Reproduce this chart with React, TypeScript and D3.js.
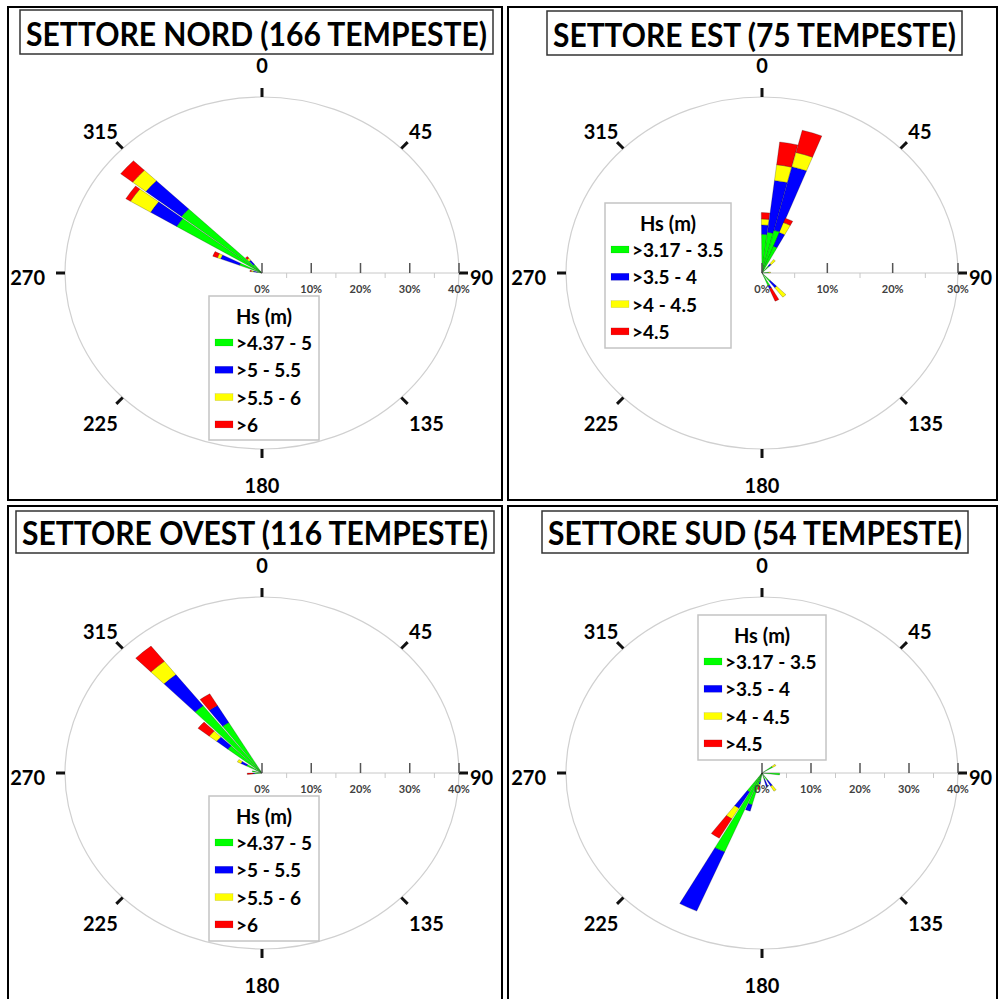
import React from "react";
import * as d3 from "d3";

// Direction of each petal (degrees clockwise from north) and frequency (%) per Hs class
const NORD_DIRS = [281.25, 294, 304.5, 311.25, 318.75];
const NORD_G = [1.0, 4.9, 20.3, 20.8, 2.5];
const NORD_B = [0.8, 4.1, 6.2, 9.2, 1.2];
const NORD_Y = [0.4, 0.7, 4.8, 3.4, 0.6];
const NORD_R = [0.3, 1.0, 1.1, 3.1, 0.5];

const EST_DIRS = [3, 10.5, 17.8, 24.5, 41.25, 86, 138.75, 153.75];
const EST_G = [6.6, 7.0, 7.5, 4.9, 1.5, 1.0, 1.8, 2.4];
const EST_B = [1.6, 8.9, 11.2, 2.5, 0.5, 0, 1.4, 0.5];
const EST_Y = [1.0, 2.7, 2.5, 1.8, 0.9, 0.3, 2.0, 0];
const EST_R = [1.1, 3.9, 3.9, 0.8, 0, 0, 0, 2.3];

const OVEST_DIRS = [266.25, 281.25, 300, 311.25, 318.75, 326.25];
const OVEST_G = [1.5, 2.0, 3.5, 8.8, 19.4, 13.3];
const OVEST_B = [0.3, 0, 1.3, 2.9, 9.0, 4.5];
const OVEST_Y = [0, 0, 0.8, 1.9, 3.8, 0];
const OVEST_R = [1.2, 0, 0, 2.9, 4.4, 3.1];

const SUD_DIRS = [56.25, 93.75, 146.25, 161.25, 191.25, 198.75, 206.25, 213.75];
const SUD_G = [2.5, 3.6, 2.0, 1.5, 2.0, 7.5, 19.5, 5.0];
const SUD_B = [0, 0, 1.5, 1.8, 0.6, 1.5, 14.6, 4.3];
const SUD_Y = [0.8, 0, 1.3, 0, 0.4, 0, 0, 2.8];
const SUD_R = [0, 0, 0, 0, 0.8, 0, 0, 5.1];

const LEGEND_HIGH = [">4.37 - 5", ">5 - 5.5", ">5.5 - 6", ">6"];
const LEGEND_LOW = [">3.17 - 3.5", ">3.5 - 4", ">4 - 4.5", ">4.5"];
const COMPASS = [0, 45, 90, 135, 180, 225, 270, 315];

const CLASS_COLORS = ["#00ff00", "#0000ff", "#ffff00", "#ff0000"];
const FONT = "Lato, 'Liberation Sans', sans-serif";

type Box = [number, number, number, number];

type PanelProps = {
  frame: Box;
  cx: number;
  cy: number;
  rx: number;
  ry: number;
  maxPct: number;
  petalWidth: number;
  title: string;
  titleBox: Box;
  dirs: number[];
  g: number[];
  b: number[];
  y: number[];
  r: number[];
  legend: string[];
  legendBox: Box;
};

const arcGen = d3.arc<{ innerRadius: number; outerRadius: number; startAngle: number; endAngle: number }>();

function Panel(p: PanelProps) {
  const radius = d3.scaleLinear().domain([0, p.maxPct]).range([0, p.rx]);
  const major = d3.range(0, p.maxPct + 0.001, 10);
  const minor = d3.range(5, p.maxPct, 10);
  const half = ((p.petalWidth / 2) * Math.PI) / 180;

  const petals: React.ReactNode[] = [];
  p.dirs.forEach((dir, i) => {
    const vals = [p.g[i], p.b[i], p.y[i], p.r[i]];
    const a = (dir * Math.PI) / 180;
    let acc = 0;
    vals.forEach((v, k) => {
      if (v <= 0) return;
      const d = arcGen({
        innerRadius: radius(acc),
        outerRadius: radius(acc + v),
        startAngle: a - half,
        endAngle: a + half,
      });
      petals.push(
        <path
          key={`${i}-${k}`}
          d={d || ""}
          fill={CLASS_COLORS[k]}
          stroke="rgba(0,0,0,0.45)"
          strokeWidth={0.5}
          vectorEffect="non-scaling-stroke"
        />
      );
      acc += v;
    });
  });

  const ell = (deg: number, dr: number, drY: number) => {
    const t = (deg * Math.PI) / 180;
    return [p.cx + Math.sin(t) * (p.rx + dr), p.cy - Math.cos(t) * (p.ry + drY)];
  };

  const [lx, ly, lw, lh] = p.legendBox;
  const [tx, ty, tw, th] = p.titleBox;
  const [fx, fy, fw, fh] = p.frame;

  return (
    <g>
      <rect x={fx} y={fy} width={fw} height={fh} fill="white" stroke="#000" strokeWidth={2} />
      <rect x={tx} y={ty} width={tw} height={th} fill="white" stroke="#333" strokeWidth={1.5} />
      <text
        x={tx + tw / 2}
        y={ty + th - 8}
        textAnchor="middle"
        textLength={tw - 12}
        lengthAdjust="spacingAndGlyphs"
        fontFamily={FONT}
        fontWeight={700}
        fontSize={32}
        fill="#000"
      >
        {p.title}
      </text>

      {/* outer ring */}
      <ellipse cx={p.cx} cy={p.cy} rx={p.rx} ry={p.ry} fill="none" stroke="#d0d0d0" strokeWidth={1.2} />

      {/* compass ticks and labels */}
      {COMPASS.map((deg) => {
        const [x1, y1] = ell(deg, 0, 0);
        const [x2, y2] = ell(deg, 9, 9);
        const s = Math.sin((deg * Math.PI) / 180);
        const c = Math.cos((deg * Math.PI) / 180);
        let anchor: "start" | "end" | "middle" = "middle";
        let px: number;
        if (s > 0.3) {
          anchor = "start";
          px = p.cx + s * (p.rx + 11);
        } else if (s < -0.3) {
          anchor = "end";
          px = p.cx + s * (p.rx + (s < -0.9 ? 20 : 7));
        } else {
          px = p.cx;
        }
        let py = p.cy - c * (p.ry + 31) + 7;
        if (c < -0.9) py += 6;
        else if (Math.abs(c) < 0.9) py += 5;
        return (
          <g key={deg}>
            <line x1={x1} y1={y1} x2={x2} y2={y2} stroke="#111" strokeWidth={3} />
            <text x={px} y={py} textAnchor={anchor} fontFamily={FONT} fontWeight={700} fontSize={20} fill="#000">
              {deg}
            </text>
          </g>
        );
      })}

      {/* radial axis along east */}
      <line x1={p.cx} y1={p.cy} x2={p.cx + p.rx} y2={p.cy} stroke="#c8c8c8" strokeWidth={1} />
      {minor.map((v) => (
        <line key={`m${v}`} x1={p.cx + radius(v)} x2={p.cx + radius(v)} y1={p.cy} y2={p.cy + 5} stroke="#c8c8c8" strokeWidth={1} />
      ))}

      <g transform={`translate(${p.cx},${p.cy}) scale(1,${p.ry / p.rx})`}>{petals}</g>

      {major.map((v) => (
        <g key={`M${v}`}>
          <line x1={p.cx + radius(v)} x2={p.cx + radius(v)} y1={p.cy - 10} y2={p.cy} stroke="#555" strokeWidth={1.5} />
          <text
            x={p.cx + radius(v)}
            y={p.cy + 20}
            textAnchor="middle"
            fontFamily={FONT}
            fontWeight={700}
            fontSize={11}
            fill="#404040"
          >
            {`${v}%`}
          </text>
        </g>
      ))}

      {/* legend */}
      <rect x={lx} y={ly} width={lw} height={lh} fill="white" stroke="#c4c4c4" strokeWidth={1.5} />
      <text x={lx + lw / 2} y={ly + 28} textAnchor="middle" fontFamily={FONT} fontWeight={700} fontSize={20} fill="#000">
        Hs (m)
      </text>
      {p.legend.map((lab, i) => (
        <g key={lab}>
          <rect x={lx + 6} y={ly + 43 + i * 27.3} width={18} height={7} fill={CLASS_COLORS[i]} stroke="rgba(0,0,0,0.2)" strokeWidth={0.5} />
          <text x={lx + 27} y={ly + 54 + i * 27.3} fontFamily={FONT} fontWeight={700} fontSize={19} fill="#000">
            {lab}
          </text>
        </g>
      ))}
    </g>
  );
}

export default function App() {
  return (
    <svg
      width={998}
      height={999}
      viewBox="0 0 998 999"
      style={{ position: "absolute", left: 0, top: 0, background: "white" }}
    >
      <rect x={0} y={0} width={998} height={999} fill="white" />
      <Panel
        frame={[8, 7, 494, 493]}
        cx={262}
        cy={273}
        rx={197}
        ry={176}
        maxPct={40}
        petalWidth={6.2}
        title="SETTORE NORD (166 TEMPESTE)"
        titleBox={[20, 10, 473, 44]}
        dirs={NORD_DIRS}
        g={NORD_G}
        b={NORD_B}
        y={NORD_Y}
        r={NORD_R}
        legend={LEGEND_HIGH}
        legendBox={[209, 296, 110, 144]}
      />
      <Panel
        frame={[508, 7, 489, 493]}
        cx={762}
        cy={273}
        rx={196}
        ry={176}
        maxPct={30}
        petalWidth={7.2}
        title="SETTORE EST (75 TEMPESTE)"
        titleBox={[547, 11, 415, 44]}
        dirs={EST_DIRS}
        g={EST_G}
        b={EST_B}
        y={EST_Y}
        r={EST_R}
        legend={LEGEND_LOW}
        legendBox={[605, 203, 126, 145]}
      />
      <Panel
        frame={[8, 506, 494, 495]}
        cx={262}
        cy={773}
        rx={197}
        ry={176}
        maxPct={40}
        petalWidth={6.5}
        title="SETTORE OVEST (116 TEMPESTE)"
        titleBox={[16, 511, 478, 42]}
        dirs={OVEST_DIRS}
        g={OVEST_G}
        b={OVEST_B}
        y={OVEST_Y}
        r={OVEST_R}
        legend={LEGEND_HIGH}
        legendBox={[209, 796, 110, 145]}
      />
      <Panel
        frame={[508, 506, 489, 495]}
        cx={762}
        cy={773}
        rx={196}
        ry={176}
        maxPct={40}
        petalWidth={6.5}
        title="SETTORE SUD (54 TEMPESTE)"
        titleBox={[542, 511, 426, 42]}
        dirs={SUD_DIRS}
        g={SUD_G}
        b={SUD_B}
        y={SUD_Y}
        r={SUD_R}
        legend={LEGEND_LOW}
        legendBox={[698, 615, 128, 145]}
      />
    </svg>
  );
}
